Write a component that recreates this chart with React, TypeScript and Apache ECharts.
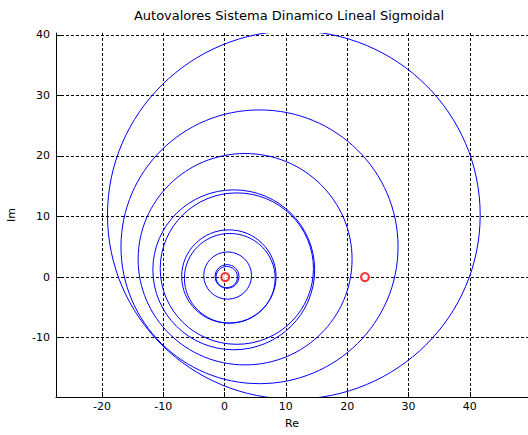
import React, { useEffect, useRef } from "react";
import * as echarts from "echarts";

const titleText = "Autovalores Sistema Dinamico Lineal Sigmoidal";
const xName = "Re";
const yName = "Im";
const xRange = [-27.5, 49.5];
const yRange = [-19.8, 40.3];
const xTicks = [-20, -10, 0, 10, 20, 30, 40];
const yTicks = [-10, 0, 10, 20, 30, 40];

// trajectory circles: centre (Re, Im) and radius
const circleCx = [11.3, 5.7, 3.35, 1.5, 2.0, 0.7, 0.85, 0.5, 0.4, 0.35];
const circleCy = [10.25, 5.0, 2.95, 1.2, 1.4, 0.1, -0.2, 0.25, 0.1, 0.0];
const circleR = [30.4, 22.6, 17.45, 13.2, 12.5, 7.7, 7.4, 3.9, 1.95, 1.75];

// eigenvalue markers (red o)
const markRe = [0.1, 22.9];
const markIm = [0.0, 0.0];

const FONT = "DejaVu Sans, Verdana, sans-serif";

export default function App() {
  const ref = useRef<HTMLDivElement>(null);
  useEffect(() => {
    if (!ref.current) return;
    const chart = echarts.init(ref.current, undefined, { renderer: "svg" });
    const circles = circleCx.map((cx, i) => [cx, circleCy[i], circleR[i]]);
    const marks = markRe.map((x, i) => [x, markIm[i]]);
    const fmt = (v: number) => (Math.abs(v % 10) < 1e-9 ? String(v) : "");
    const split = {
      show: true,
      lineStyle: { color: "#000", type: [3, 2], width: 1 },
    };
    chart.setOption({
      animation: false,
      backgroundColor: "#ffffff",
      grid: {
        left: 56,
        top: 33,
        right: 0,
        bottom: 38,
        containLabel: false,
        outerBoundsMode: "none",
      },
      graphic: [
        {
          type: "text",
          x: 289,
          y: 15,
          style: {
            text: titleText,
            fontFamily: FONT,
            fontSize: 13,
            fill: "#000",
            textAlign: "center",
            textVerticalAlign: "middle",
          },
        },
      ],
      xAxis: {
        type: "value",
        min: xRange[0],
        max: xRange[1],
        splitNumber: 8,
        name: xName,
        nameLocation: "middle",
        nameGap: 21,
        nameTextStyle: { fontFamily: FONT, fontSize: 11, color: "#000" },
        axisLine: { show: true, onZero: false, lineStyle: { color: "#000", width: 1 } },
        axisTick: {
          show: true,
          inside: true,
          length: 5,
          customValues: xTicks,
          lineStyle: { color: "#000" },
        },
        axisLabel: {
          formatter: fmt,
          customValues: xTicks,
          fontFamily: FONT,
          fontSize: 11,
          color: "#000",
          margin: 4,
        },
        splitLine: split,
      },
      yAxis: {
        type: "value",
        min: yRange[0],
        max: yRange[1],
        splitNumber: 6,
        name: yName,
        nameLocation: "middle",
        nameGap: 39,
        nameRotate: 90,
        nameTextStyle: { fontFamily: FONT, fontSize: 11, color: "#000" },
        axisLine: { show: true, onZero: false, lineStyle: { color: "#000", width: 1 } },
        axisTick: {
          show: true,
          inside: true,
          length: 5,
          customValues: yTicks,
          lineStyle: { color: "#000" },
        },
        axisLabel: {
          formatter: fmt,
          customValues: yTicks,
          fontFamily: FONT,
          fontSize: 11,
          color: "#000",
          margin: 6,
        },
        splitLine: split,
      },
      series: [
        {
          type: "custom",
          clip: true,
          data: circles,
          renderItem: (params: any, api: any) => {
            const c = api.coord([api.value(0), api.value(1)]);
            const s = api.size([api.value(2), api.value(2)]);
            return {
              type: "ellipse",
              shape: { cx: c[0], cy: c[1], rx: s[0], ry: s[1] },
              style: { fill: "none", stroke: "#0000ff", lineWidth: 1 },
              silent: true,
            };
          },
          z: 3,
        },
        {
          type: "scatter",
          data: marks,
          symbol: "emptyCircle",
          symbolSize: 8,
          itemStyle: { color: "#ff0000", borderColor: "#ff0000", borderWidth: 1.5 },
          z: 4,
        },
      ],
    });
    return () => chart.dispose();
  }, []);
  return (
    <div
      ref={ref}
      style={{ position: "fixed", left: 0, top: 0, width: 528, height: 435 }}
    />
  );
}
